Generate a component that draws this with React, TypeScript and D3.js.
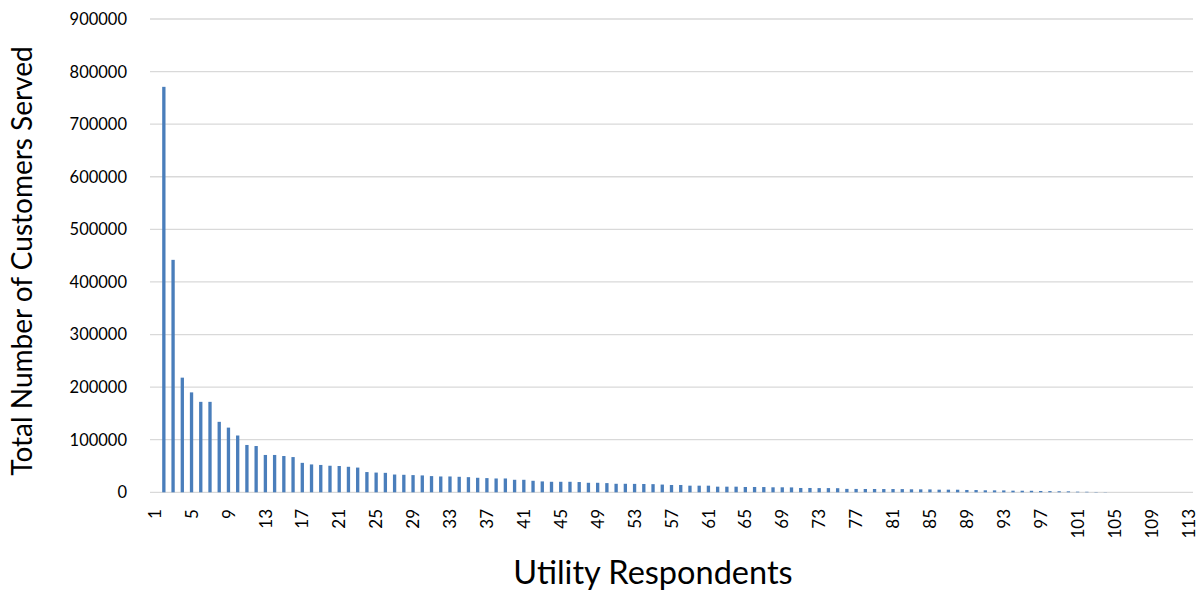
import React from "react";
import * as d3 from "d3";

const categories: number[] = Array.from({ length: 113 }, (_, i) => i + 1);

const customers: number[] = [
  0, 771000, 442000, 218000, 190000, 172000, 172000, 134000, 123000, 108000,
  90000, 88000, 71000, 71000, 69000, 67000, 56000, 53000, 52000, 50500,
  50000, 48500, 47000, 38500, 37500, 37000, 33800, 33300, 32700, 32100,
  30800, 30100, 30100, 29500, 28800, 27600, 27000, 26300, 26300, 23800,
  23800, 21900, 20700, 20000, 20000, 20000, 19500, 18100, 18100, 17500,
  16200, 16200, 16000, 15800, 15500, 14700, 13900, 13900, 12600, 12600,
  12600, 10700, 10700, 10700, 10100, 10100, 10000, 9500, 9500, 9300,
  8200, 8200, 8000, 8000, 7800, 6500, 6400, 6300, 6300, 6200,
  6200, 6100, 5700, 5600, 5500, 5000, 5000, 4900, 4400, 4300,
  3800, 3700, 3600, 3100, 3000, 2900, 2500, 2300, 2000, 1800,
  1200, 1000, 600, 400, 0, 0, 0, 0, 0, 0,
  0, 0, 0,
];

const yTicks: number[] = [0, 100000, 200000, 300000, 400000, 500000, 600000, 700000, 800000, 900000];
const xTickLabels: number[] = categories.filter((c) => (c - 1) % 4 === 0);

const xTitle = "Utility Respondents";
const yTitle = "Total Number of Customers Served";

const W = 1202;
const H = 593;
const left = 150;
const right = 1193;
const top = 19;
const bottom = 492.3;
const FONT = "Lato, 'Open Sans', sans-serif";

export default function App() {
  const x = d3.scaleBand<number>().domain(categories).range([left, right]).padding(0);
  const y = d3.scaleLinear().domain([0, 900000]).range([bottom, top]);
  const bw = x.bandwidth() * 0.36;

  return (
    <svg
      width={W}
      height={H}
      style={{ position: "absolute", left: 0, top: 0, background: "#fff" }}
      fontFamily={FONT}
    >
      {yTicks.map((t) => (
        <line key={"g" + t} x1={left} x2={right} y1={y(t)} y2={y(t)} stroke="#d9d9d9" strokeWidth={1.3} />
      ))}
      {categories.map((c, i) => {
        const v = customers[i];
        if (!v) return null;
        const x0 = (x(c) as number) + x.bandwidth() / 2 - bw / 2;
        return <rect key={"b" + c} x={x0} y={y(v)} width={bw} height={bottom - y(v)} fill="#4a7ebb" />;
      })}
      {yTicks.map((t) => (
        <text key={"yl" + t} x={127} y={y(t)} dy="0.36em" textAnchor="end" fontSize={16.5} fill="#000">
          {t}
        </text>
      ))}
      {xTickLabels.map((c) => {
        const cx = (x(c) as number) + x.bandwidth() / 2;
        return (
          <text
            key={"xl" + c}
            transform={`translate(${cx},509) rotate(-90)`}
            dy="0.36em"
            textAnchor="end"
            fontSize={17}
            fill="#000"
          >
            {c}
          </text>
        );
      })}
      <text x={653} y={584} textAnchor="middle" fontSize={32.5} fill="#000">
        {xTitle}
      </text>
      <text transform={`translate(22,261) rotate(-90)`} dy="0.36em" textAnchor="middle" fontSize={28} fill="#000">
        {yTitle}
      </text>
    </svg>
  );
}
